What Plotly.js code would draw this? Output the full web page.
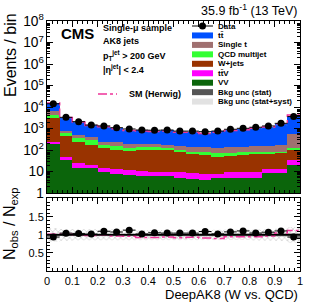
<!DOCTYPE html>
<html>
<head>
<meta charset="utf-8">
<script src="https://cdn.plot.ly/plotly-3.0.1.min.js"></script>
<style>html,body{margin:0;padding:0;background:#fff;}#chart{width:316px;height:303px;}</style>
</head>
<body>
<div id="chart"></div>
<script>
// ---- data ----
var binLow = [0.00,0.05,0.10,0.15,0.20,0.25,0.30,0.35,0.40,0.45,0.50,0.55,0.60,0.65,0.70,0.75,0.80,0.85,0.90,0.95];
var binWidth = 0.05;
var vv      = [190,34,15,14,9,7.4,6.9,6.4,6.2,6,5.2,4.5,4,4.8,5.1,5.2,5.2,8.2,8.2,20];
var ttv     = [55,15,9,6,5,5.6,5.1,4.1,3.8,4,4,3.7,4,2.6,4.1,4.3,3.8,4.8,4.8,14];
var wjets   = [2725,416,221,150,106,87,81,89.5,95,85,68.8,54.8,52,41.6,44.8,50.5,54,50,57,66];
var qcd     = [1300,135,130,123,50,58,35,34,35,35,22,20,18,21,16,18,17,19,13,20];
var singlet = [2230,160,125,97,75,72,55,49,43,45,58,59,62,58,72,67,70,68,87,420];
var ttbar   = [8500,2390,1500,1030,955,780,657,647,602,635,562,578,510,612,708,775,935,1070,1400,3260];
var dataObs = [14100,3300,2080,1450,1320,1090,950,850,830,850,755,755,710,760,920,1020,1140,1310,1740,3570];
var herwig  = [15300,3210,2000,1390,1200,980,806,772,730,761,662,670,592,666,808,874,1030,1183,1650,4250];
var statUnc = [0.03,0.03,0.03,0.03,0.03,0.03,0.03,0.03,0.03,0.03,0.03,0.03,0.03,0.03,0.03,0.03,0.03,0.03,0.03,0.035];
var systUnc = [0.19,0.16,0.15,0.15,0.14,0.14,0.14,0.13,0.13,0.13,0.13,0.13,0.13,0.13,0.14,0.14,0.15,0.15,0.17,0.22];
var xTickVals = [0,0.1,0.2,0.3,0.4,0.5,0.6,0.7,0.8,0.9,1];
var xTickText = ['0','0.1','0.2','0.3','0.4','0.5','0.6','0.7','0.8','0.9','1'];

var series = [
  {name:'VV', y:vv, color:'#0b650b'},
  {name:'tt\u0304V', y:ttv, color:'#ff00ff'},
  {name:'W+jets', y:wjets, color:'#993300'},
  {name:'QCD multijet', y:qcd, color:'#33ff33'},
  {name:'Single t', y:singlet, color:'#a07070'},
  {name:'tt\u0304', y:ttbar, color:'#0050ff'}
];

var centers = binLow.map(function(v){return v + binWidth/2;});
var total = binLow.map(function(_,i){
  var s = 0; series.forEach(function(sr){ s += sr.y[i]; }); return s;
});

function stepBand(lo, hi){
  var xs = [], ys = [];
  binLow.forEach(function(b,i){ xs.push(b, b+binWidth); ys.push(hi[i], hi[i]); });
  for (var i = binLow.length-1; i >= 0; i--){ xs.push(binLow[i]+binWidth, binLow[i]); ys.push(lo[i], lo[i]); }
  return {x:xs, y:ys};
}
function stepLine(vals){
  return {x: binLow.concat([binLow[binLow.length-1]+binWidth]), y: vals.concat([vals[vals.length-1]])};
}

var traces = [];
series.forEach(function(sr){
  traces.push({type:'bar', x:centers, y:sr.y, width:binWidth, xaxis:'x', yaxis:'y',
    marker:{color:sr.color, line:{width:0}}, hoverinfo:'skip', showlegend:false});
});
// main panel syst band
var mb = stepBand(total.map(function(t,i){return t*(1-systUnc[i]);}), total.map(function(t,i){return t*(1+systUnc[i]);}));
traces.push({type:'scatter', mode:'lines', x:mb.x, y:mb.y, fill:'toself', fillcolor:'rgba(0,0,0,0)',
  fillpattern:{shape:'x', fgcolor:'#999', size:4, solidity:0.15}, line:{width:0}, xaxis:'x', yaxis:'y', showlegend:false, hoverinfo:'skip'});
// herwig in main
var hl = stepLine(herwig);
traces.push({type:'scatter', mode:'lines', x:hl.x, y:hl.y, line:{shape:'hv', color:'#ee3399', width:1.5, dash:'dashdot'},
  xaxis:'x', yaxis:'y', showlegend:false, hoverinfo:'skip'});
// data main
traces.push({type:'scatter', mode:'markers', x:centers, y:dataObs, xaxis:'x', yaxis:'y',
  marker:{color:'#000', size:7},
  error_y:{type:'data', array:dataObs.map(function(d){return Math.sqrt(d);}), color:'#000', thickness:1, width:0},
  error_x:{type:'constant', value:binWidth/2, color:'#000', thickness:1, width:0},
  showlegend:false, hoverinfo:'skip'});

// ratio panel
var sb = stepBand(systUnc.map(function(u){return 1-u;}), systUnc.map(function(u){return 1+u;}));
traces.push({type:'scatter', mode:'lines', x:sb.x, y:sb.y, fill:'toself', fillcolor:'rgba(0,0,0,0)',
  fillpattern:{shape:'x', fgcolor:'#aaa', size:4, solidity:0.2}, line:{width:0}, xaxis:'x2', yaxis:'y2', showlegend:false, hoverinfo:'skip'});
var stb = stepBand(statUnc.map(function(u){return 1-u;}), statUnc.map(function(u){return 1+u;}));
traces.push({type:'scatter', mode:'lines', x:stb.x, y:stb.y, fill:'toself', fillcolor:'#555555',
  line:{width:0}, xaxis:'x2', yaxis:'y2', showlegend:false, hoverinfo:'skip'});
var hr = stepLine(herwig.map(function(h,i){return h/total[i];}));
traces.push({type:'scatter', mode:'lines', x:hr.x, y:hr.y, line:{shape:'hv', color:'#ee3399', width:1.5, dash:'dashdot'},
  xaxis:'x2', yaxis:'y2', showlegend:false, hoverinfo:'skip'});
traces.push({type:'scatter', mode:'markers', x:centers, y:dataObs.map(function(d,i){return d/total[i];}), xaxis:'x2', yaxis:'y2',
  marker:{color:'#000', size:7},
  error_y:{type:'data', array:dataObs.map(function(d,i){return Math.sqrt(d)/total[i];}), color:'#000', thickness:1, width:0},
  error_x:{type:'constant', value:binWidth/2, color:'#000', thickness:1, width:0},
  showlegend:false, hoverinfo:'skip'});

// ---- layout helpers (pixel -> paper) ----
var L = 47, R = 300, T = 21, B = 271;
function px(x){ return (x-L)/(R-L); }
function py(y){ return (B-y)/(B-T); }
var FONT = 'Liberation Sans, Arial, Helvetica, sans-serif';

var shapes = [
  {type:'line', xref:'x2', yref:'y2', x0:0, x1:1, y0:1, y1:1, line:{color:'#000', width:1.5}}
];
var annotations = [];
function ann(text, x, y, size, xanchor, opts){
  var a = {text:text, xref:'paper', yref:'paper', x:px(x), y:py(y), xanchor:xanchor||'left', yanchor:'middle',
    showarrow:false, font:{family:FONT, size:size, color:'#000'}};
  if (opts) for (var k in opts) a[k] = opts[k];
  annotations.push(a);
}
// legend
var legRows = ['Data','tt\u0304','Single t','QCD multijet','W+jets','tt\u0304V','VV','Bkg unc (stat)','Bkg unc (stat+syst)'];
var legColors = [null,'#0050ff','#a07070','#33ff33','#993300','#ff00ff','#0b650b','#555555','#e2e2e2'];
var lx0 = 192, lx1 = 213, ly0 = 26, ldy = 9.45;
legRows.forEach(function(t,i){
  var yc = ly0 + i*ldy;
  if (i === 0){
    shapes.push({type:'line', xref:'paper', yref:'paper', x0:px(lx0), x1:px(lx1), y0:py(yc), y1:py(yc), line:{color:'#000', width:1}});
    var cx = (lx0+lx1)/2, r = 3.5;
    shapes.push({type:'circle', xref:'paper', yref:'paper', x0:px(cx-r), x1:px(cx+r), y0:py(yc+r), y1:py(yc-r), fillcolor:'#000', line:{color:'#000', width:0}});
  } else {
    shapes.push({type:'rect', xref:'paper', yref:'paper', x0:px(lx0), x1:px(lx1), y0:py(yc+3), y1:py(yc-3), fillcolor:legColors[i], line:{width:0}});
  }
  ann('<b>'+t+'</b>', lx1+3, yc, 8, 'left');
});
// SM (Herwig) legend entry
shapes.push({type:'line', xref:'paper', yref:'paper', x0:px(98), x1:px(117), y0:py(94), y1:py(94), line:{color:'#ee3399', width:1.5, dash:'dashdot'}});
ann('<b>SM (Herwig)</b>', 127, 94, 9, 'left');
// CMS + labels
ann('<b>CMS</b>', 59, 33, 15, 'left');
ann('<b>Single-\u03bc sample</b>', 101, 28, 9, 'left');
ann('<b>AK8 jets</b>', 101, 41, 9, 'left');
ann('<b>p<sub>T</sub><sup>jet</sup> > 200 GeV</b>', 101, 55, 9, 'left');
ann('<b>|\u03b7<sup>jet</sup>| < 2.4</b>', 101, 69, 9, 'left');
// titles
ann('35.9 fb<sup>-1</sup> (13 TeV)', 300, 10, 12.5, 'right');
ann('Events / bin', 10, 55, 16, 'center', {textangle:-90});
ann('N<sub>obs</sub> / N<sub>exp</sub>', 10, 224, 16, 'center', {textangle:-90});
ann('DeepAK8 (W vs. QCD)', 300, 294, 13, 'right');

var axCommon = {ticks:'inside', mirror:'allticks', showline:true, linecolor:'#000', linewidth:1, tickcolor:'#000',
  zeroline:false, showgrid:false, tickfont:{family:FONT, size:11, color:'#000'}};
function merge(a,b){ var o = {}; for (var k in a) o[k]=a[k]; for (var k2 in b) o[k2]=b[k2]; return o; }

var layout = {
  width:316, height:303,
  margin:{l:L, r:316-R, t:T, b:303-B, pad:0},
  paper_bgcolor:'#fff', plot_bgcolor:'#fff',
  barmode:'stack', bargap:0, showlegend:false,
  font:{family:FONT, color:'#000'},
  xaxis: merge(axCommon, {domain:[0,1], anchor:'y', range:[0,1], tickvals:xTickVals, showticklabels:false, ticklen:6,
    minor:{dtick:0.02, ticks:'inside', ticklen:3, tickcolor:'#000', showgrid:false}}),
  yaxis: merge(axCommon, {domain:[0.312,1], anchor:'x', type:'log', range:[0,8], dtick:1, exponentformat:'power', ticklen:6,
    minor:{ticks:'inside', ticklen:3, tickcolor:'#000', showgrid:false}}),
  xaxis2: merge(axCommon, {domain:[0,1], anchor:'y2', range:[0,1], tickvals:xTickVals, ticktext:xTickText, ticklen:6,
    minor:{dtick:0.02, ticks:'inside', ticklen:3, tickcolor:'#000', showgrid:false}}),
  yaxis2: merge(axCommon, {domain:[0,0.292], anchor:'x2', range:[0,2.02], tickvals:[0.5,1,1.5], ticktext:['0.5','1','1.5'], ticklen:6,
    minor:{dtick:0.1, ticks:'inside', ticklen:3, tickcolor:'#000', showgrid:false}}),
  shapes:shapes,
  annotations:annotations
};

Plotly.newPlot('chart', traces, layout, {staticPlot:true, displayModeBar:false});
</script>
</body>
</html>
